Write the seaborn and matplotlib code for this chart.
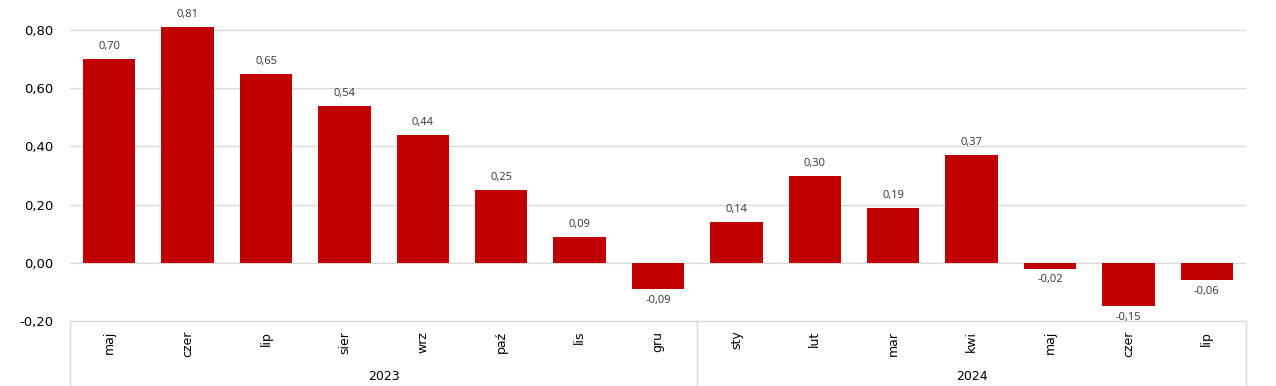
import pandas as pd
import numpy as np
import matplotlib
matplotlib.use('Agg')
import matplotlib.pyplot as plt
import matplotlib.transforms as mtransforms
from matplotlib.ticker import FuncFormatter
import seaborn as sns

# data
months = ['maj', 'czer', 'lip', 'sier', 'wrz', 'paź', 'lis', 'gru',
          'sty', 'lut', 'mar', 'kwi', 'maj', 'czer', 'lip']
years = ['2023'] * 8 + ['2024'] * 7
values = [0.70, 0.81, 0.65, 0.54, 0.44, 0.25, 0.09, -0.09,
          0.14, 0.30, 0.19, 0.37, -0.02, -0.15, -0.06]
year_labels = ['2023', '2024']
y_ticks = [-0.20, 0.00, 0.20, 0.40, 0.60, 0.80]

df = pd.DataFrame({'month': months, 'year': years, 'value': values})
df['period'] = df['month'] + ' ' + df['year']

sns.set_style('white')
plt.rcParams['font.family'] = ['DejaVu Sans']

fig = plt.figure(figsize=(12.76, 3.86), dpi=100)
ax = fig.add_axes([70 / 1276, 65 / 386, 1176 / 1276, 320 / 386])

sns.barplot(data=df, x='period', y='value', order=list(df['period']),
            color='#C00000', saturation=1, width=0.67, linewidth=0,
            edgecolor='none', ax=ax)

ax.set_xlim(-0.5, len(df) - 0.5)
ax.set_ylim(-0.2, 0.9)
ax.set_yticks(y_ticks)
ax.yaxis.set_major_formatter(FuncFormatter(lambda v, p: f'{v:.2f}'.replace('.', ',')))
ax.grid(axis='y', color='#D9D9D9', linewidth=1)
ax.set_axisbelow(True)
for s in ['top', 'left', 'right']:
    ax.spines[s].set_visible(False)
ax.spines['bottom'].set_color('#D9D9D9')
ax.set_xlabel('')
ax.set_ylabel('')
ax.set_xticks(range(len(df)))
ax.set_xticklabels(df['month'], rotation=90, fontsize=9, va='top')
ax.tick_params(axis='x', length=0, pad=7, labelcolor='black')
ax.tick_params(axis='y', length=0, pad=12, labelsize=9.5, labelcolor='black')

# value labels
for i, v in enumerate(values):
    txt = f'{v:.2f}'.replace('.', ',')
    if v >= 0:
        ax.annotate(txt, (i, v), xytext=(0, 5), textcoords='offset points',
                    ha='center', va='bottom', fontsize=8, family='Open Sans', color='#333333')
    else:
        ax.annotate(txt, (i, v), xytext=(0, -4), textcoords='offset points',
                    ha='center', va='top', fontsize=8, family='Open Sans', color='#333333')

# second level category axis (years)
trans = mtransforms.blended_transform_factory(ax.transData, ax.transAxes)
counts = [years.count(y) for y in year_labels]
edges = np.concatenate([[0], np.cumsum(counts)]) - 0.5
for e in edges:
    ax.plot([e, e], [0, -0.21], transform=trans, color='#D9D9D9', lw=1, clip_on=False)
for k, y in enumerate(year_labels):
    ax.text((edges[k] + edges[k + 1]) / 2, -0.172, y, transform=trans,
            ha='center', va='center', fontsize=9, color='black')

plt.savefig('out.png', dpi=100)
